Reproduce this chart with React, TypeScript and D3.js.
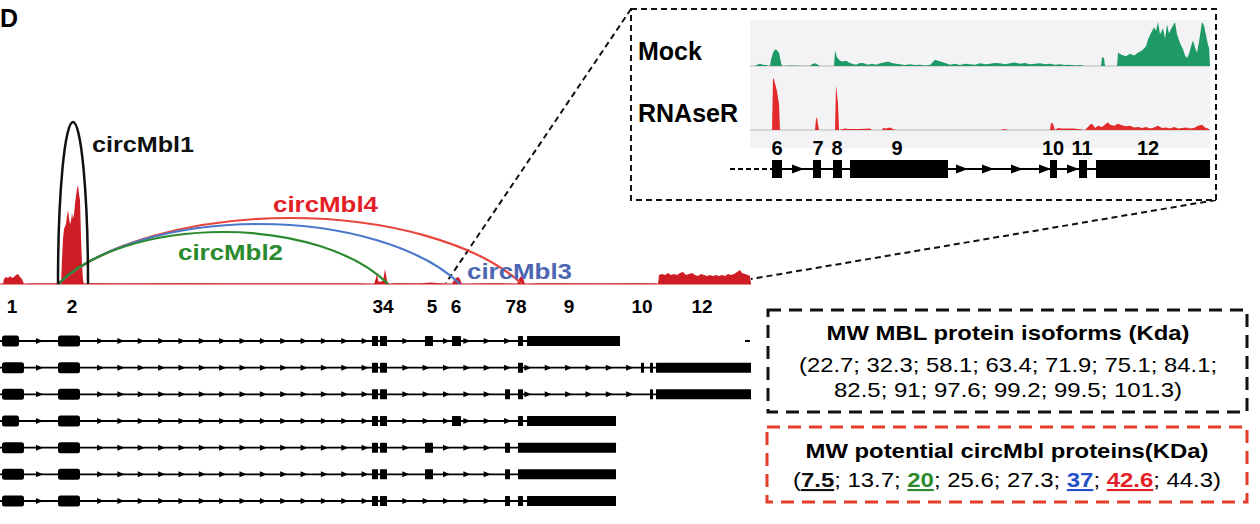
import React from 'react'
import * as d3 from 'd3'

const FONT = '"Liberation Sans", Arial, Helvetica, sans-serif'

// read-coverage along the Mbl locus: [position, signal]
const locusCoverage: [number, number][] = [
  [0, 0], [3, 0], [4, 5], [6, 7], [8, 6], [10, 8], [12, 6], [14, 7], [16, 9], [18, 10], [20, 7], [22, 5], [24, 0],
  [30, 0.6], [50, 0.6], [60, 0.6],
  [61, 0], [62, 25], [63, 45], [64, 55], [66, 60], [67, 68], [68, 74], [69, 66], [70, 60], [71, 63], [72, 71], [73, 65],
  [74, 70], [75, 80], [76, 88], [77, 95], [78, 99], [79, 90], [80, 84], [81, 47], [82, 20], [83, 4], [84, 0],
  [90, 0.8], [120, 0.5], [180, 0.8], [250, 0.5], [300, 0.6], [360, 0.6],
  [374, 0], [376, 6], [377, 11], [378, 4], [379, 2], [383, 3], [385, 15], [386, 9], [387, 3], [389, 0],
  [395, 0.8], [420, 0.6], [430, 1.5], [440, 0.8],
  [452, 0], [454, 4], [456, 6], [458, 7], [460, 5], [462, 0],
  [480, 0.6], [500, 0.8],
  [517, 0], [519, 5], [521, 8], [523, 6], [525, 0],
  [540, 0.8], [600, 0.6], [640, 0.7], [655, 0.6],
  [658, 0], [659, 9], [662, 10], [665, 9], [668, 11], [671, 9], [674, 10], [677, 9], [680, 11], [683, 12], [686, 9],
  [689, 10], [692, 11], [695, 9], [698, 8], [701, 10], [704, 9], [707, 8], [710, 9], [713, 8], [716, 9], [719, 8],
  [722, 9], [725, 8], [728, 10], [731, 9], [734, 10], [737, 12], [740, 14], [742, 11], [745, 10], [748, 9], [750, 8], [751, 0],
]

const exonLabels = ['1', '2', '34', '5', '6', '78', '9', '10', '12']
const exonLabelPos = [12, 72, 383, 432, 456, 516, 569, 642, 702]

// annotated isoforms: exon intervals
const isoforms: [number, number][][] = [
  [[2, 19], [58, 80], [372, 378], [380, 387], [425, 433], [452, 461], [518, 523], [527, 620]],
  [[2, 24], [58, 80], [372, 378], [380, 387], [518, 523], [641, 644], [650, 653], [656, 751]],
  [[2, 24], [58, 80], [372, 378], [380, 387], [505, 510], [518, 523], [650, 653], [656, 751]],
  [[2, 19], [58, 80], [372, 378], [380, 387], [452, 461], [518, 523], [527, 616]],
  [[2, 24], [58, 80], [372, 378], [380, 387], [425, 433], [505, 510], [518, 616]],
  [[2, 24], [58, 80], [372, 378], [380, 387], [425, 433], [505, 510], [518, 616]],
  [[2, 24], [58, 80], [372, 378], [380, 387], [505, 510], [518, 523], [527, 616]],
]
const isoformTails: ([number, number] | null)[] = [[745, 750], null, null, null, null, null, null]

// back-splice junctions
const circNames = ['circMbl1', 'circMbl2', 'circMbl3', 'circMbl4']
const circStart = [58, 58, 58, 58]
const circEnd = [88, 388, 460, 522]
const circHeight = [162, 52, 60, 66]
const circColor: Record<string, string> = {
  circMbl1: '#111111', circMbl2: '#2b8a2e', circMbl3: '#4b79c9', circMbl4: '#e8453c',
}
const circLabelColor: Record<string, string> = {
  circMbl1: '#111111', circMbl2: '#2b8a2e', circMbl3: '#4d66b3', circMbl4: '#e41e26',
}

// zoomed region (exons 6-12)
const insetTracks = ['Mock', 'RNAseR']
const mockCoverage: [number, number][] = [
  [5, 0], [7, 3], [10, 5], [13, 3], [16, 2], [20, 0], [21, 15], [23, 30], [25, 38], [27, 36], [29, 30], [31, 8], [32, 0],
  [40, 1], [60, 0], [62, 4], [65, 6], [68, 3], [70, 0],
  [84, 0], [85, 35], [87, 20], [90, 12], [93, 10], [96, 12], [99, 8], [102, 5], [106, 3], [110, 7], [114, 6], [118, 3],
  [122, 5], [126, 3], [130, 6], [134, 8], [138, 10], [142, 7], [146, 5], [150, 4], [155, 2], [160, 4], [165, 2], [170, 3],
  [175, 1], [180, 2], [185, 14], [188, 12], [192, 9], [196, 6], [200, 3], [205, 5], [210, 2], [215, 5], [220, 4], [225, 3],
  [230, 6], [235, 4], [240, 5], [245, 7], [250, 6], [255, 4], [260, 6], [265, 8], [270, 5], [275, 7], [280, 4], [285, 5],
  [290, 6], [295, 4], [300, 5], [305, 3], [310, 4], [315, 2], [320, 3], [325, 1], [330, 2], [335, 0],
  [351, 0], [352, 20], [354, 18], [355, 0], [367, 0], [368, 30], [372, 25], [376, 22], [380, 28], [384, 24], [388, 30],
  [392, 35], [396, 45], [398, 60], [401, 75], [404, 88], [406, 80], [408, 100], [410, 72], [413, 86], [415, 62],
  [417, 95], [419, 74], [421, 84], [423, 92], [425, 100], [427, 72], [430, 52], [433, 38], [435, 24], [437, 18],
  [439, 28], [441, 45], [443, 58], [445, 42], [447, 30], [449, 55], [452, 100], [454, 92], [456, 70], [458, 48], [459, 42], [460, 0],
]
const rnaseRCoverage: [number, number][] = [
  [0, 0], [22, 0], [23, 100], [24, 97], [25, 90], [26, 82], [27, 75], [28, 62], [29, 50], [30, 0],
  [65, 0], [66, 20], [67, 25], [68, 10], [69, 0],
  [85, 0], [86, 85], [87, 70], [88, 50], [89, 0],
  [95, 3], [98, 2], [110, 2], [120, 3], [122, 0], [132, 0], [133, 4], [136, 3], [140, 5], [143, 2], [146, 0],
  [250, 0], [255, 2], [258, 0], [300, 0], [301, 14], [303, 12], [305, 0], [308, 4], [312, 3], [318, 3], [323, 3],
  [328, 2], [335, 0], [341, 12], [343, 10], [345, 4], [348, 8], [352, 6], [356, 12], [358, 15], [360, 10], [364, 8],
  [368, 12], [372, 9], [376, 7], [380, 8], [384, 5], [388, 6], [392, 4], [396, 6], [400, 3], [404, 5], [408, 8],
  [412, 4], [416, 5], [420, 3], [424, 6], [428, 3], [432, 4], [436, 5], [440, 3], [444, 4], [448, 8], [452, 10],
  [455, 5], [458, 3], [460, 0],
]
const insetExons: [number, number][] = [[22, 32], [63, 71], [83, 92], [100, 198], [300, 307], [329, 337], [346, 460]]
const insetExonLabels = ['6', '7', '8', '9', '10', '11', '12']
const insetExonLabelPos = [27, 68, 87, 147, 303, 332, 398]
const insetArrows = [48, 212, 238, 267, 295, 323]

// molecular weights (kDa)
const isoformMW = ['22.7', '32.3', '58.1', '63.4', '71.9', '75.1', '84.1', '82.5', '91', '97.6', '99.2', '99.5', '101.3']
const circMW = ['7.5', '13.7', '20', '25.6', '27.3', '37', '42.6', '44.3']
const circMWSource = ['circMbl1', '', 'circMbl2', '', '', 'circMbl3', 'circMbl4', '']
const circMWColor: Record<string, string> = {
  circMbl1: '#111111', circMbl2: '#2b8a2e', circMbl3: '#2450c8', circMbl4: '#e41e26',
}

const App = () => {
  const W = 1260
  const H = 524

  const xLocus = d3.scaleLinear().domain([0, 750]).range([0, 750])
  const yLocus = d3.scaleLinear().domain([0, 100]).range([284, 184])
  const rowY = d3.scaleLinear().domain([0, 6]).range([341, 501])

  const xInset = d3.scaleLinear().domain([0, 460]).range([750, 1210])
  const yMock = d3.scaleLinear().domain([0, 100]).range([66, 22])
  const yRnase = d3.scaleLinear().domain([0, 100]).range([130, 78])

  const locusArea = d3.area<[number, number]>()
    .x(d => xLocus(d[0])).y0(yLocus(0)).y1(d => yLocus(d[1]))
  const mockArea = d3.area<[number, number]>()
    .x(d => xInset(d[0])).y0(yMock(0)).y1(d => yMock(d[1]))
  const rnaseArea = d3.area<[number, number]>()
    .x(d => xInset(d[0])).y0(yRnase(0)).y1(d => yRnase(d[1]))

  // partial ellipse through the two splice sites
  const junctionPath = (a: number, b: number, h: number, i: number) => {
    const x1 = xLocus(a), x2 = xLocus(b), base = yLocus(0)
    if (i === 0) {
      return `M${x1},${base} A${(x2 - x1) / 2},${h} 0 0 1 ${x2},${base}`
    }
    const rx = ((x2 - x1) / 2) * 1.12
    const k = (x2 - x1) / 2 / rx
    const ry = h / (1 - Math.sqrt(1 - k * k))
    return `M${x1},${base} A${rx},${ry} 0 0 1 ${x2},${base}`
  }

  const labelPos: Record<string, [number, number, number]> = {
    circMbl1: [92, 152, 102], circMbl2: [178, 260, 105], circMbl3: [467, 279, 105], circMbl4: [273, 212, 105],
  }

  // intron arrow glyphs on a regular grid
  const arrowGrid = d3.range(0, 36).map(k => 39.5 + 20.35 * k)
  const arrowsFor = (exons: [number, number][]) => {
    const end = exons[exons.length - 1][1]
    return arrowGrid.filter(g => g > exons[0][1] + 3 && g < end - 3 &&
      exons.every(e => g < e[0] - 3 || g > e[1] + 3))
  }

  const isoLine1 = '(' + isoformMW.slice(0, 7).join('; ') + ';'
  const isoLine2 = isoformMW.slice(7).join('; ') + ')'

  return (
    <svg width={W} height={H} style={{ position: 'absolute', left: 0, top: 0, background: '#fff' }}
      fontFamily={FONT}>
      <rect width={W} height={H} fill="#fff" />
      <text x={0} y={27} fontSize={25} fontWeight={700}>D</text>

      {/* zoom connectors */}
      <line x1={631} y1={9} x2={446} y2={283} stroke="#111" strokeWidth={2} strokeDasharray="6,4" />
      <line x1={1216} y1={200} x2={751} y2={279} stroke="#111" strokeWidth={2} strokeDasharray="6,4" />

      {/* locus coverage */}
      <line x1={xLocus(0)} x2={xLocus(751)} y1={yLocus(0)} y2={yLocus(0)} stroke="#cf1d26" strokeWidth={1} />
      <path d={locusArea(locusCoverage) || ''} fill="#cf1d26" />

      {/* back-splice arcs */}
      {circNames.map((n, i) => (
        <path key={n} d={junctionPath(circStart[i], circEnd[i], circHeight[i], i)} fill="none"
          stroke={circColor[n]} strokeWidth={i === 0 ? 2.5 : 2.2} />
      )).reverse()}
      {circNames.map(n => (
        <text key={n} x={labelPos[n][0]} y={labelPos[n][1]} fontSize={22} fontWeight={700}
          fill={circLabelColor[n]} textLength={labelPos[n][2]} lengthAdjust="spacingAndGlyphs">{n}</text>
      ))}

      {/* exon numbers */}
      {exonLabels.map((l, i) => (
        <text key={l} x={xLocus(exonLabelPos[i])} y={313} fontSize={19} fontWeight={700}
          textAnchor="middle">{l}</text>
      ))}

      {/* isoform models */}
      {isoforms.map((exons, r) => {
        const y = rowY(r)
        const tail = isoformTails[r]
        return (
          <g key={r}>
            <line x1={xLocus(0)} x2={xLocus(exons[exons.length - 1][1])} y1={y} y2={y} stroke="#000" strokeWidth={1.8} />
            {arrowsFor(exons).map(a => (
              <path key={a} d={`M${xLocus(a) - 3.5},${y - 3} L${xLocus(a) + 3.5},${y} L${xLocus(a) - 3.5},${y + 3}Z`} fill="#000" />
            ))}
            {exons.map((e, j) => (
              <rect key={j} x={xLocus(e[0])} y={j < 2 ? y - 5.5 : y - 5} width={xLocus(e[1]) - xLocus(e[0])}
                height={j < 2 ? 11 : 10} rx={j < 2 ? 2.5 : 0.5} fill="#000" />
            ))}
            {tail && (
              <line x1={xLocus(tail[0])} x2={xLocus(tail[1])} y1={y} y2={y} stroke="#000" strokeWidth={2} />
            )}
          </g>
        )
      })}

      {/* inset */}
      <rect x={631} y={9} width={585} height={191} fill="#fff" stroke="#111" strokeWidth={2} strokeDasharray="6,4" />
      <rect x={xInset(0)} y={20} width={xInset(460) - xInset(0)} height={128} fill="#f3f2f4" />
      <line x1={xInset(0)} x2={xInset(460)} y1={yMock(0)} y2={yMock(0)} stroke="#b9b9b9" strokeWidth={1} />
      <line x1={xInset(0)} x2={xInset(460)} y1={yRnase(0)} y2={yRnase(0)} stroke="#b9b9b9" strokeWidth={1} />
      <path d={mockArea(mockCoverage) || ''} fill="#1f9a67" />
      <path d={rnaseArea(rnaseRCoverage) || ''} fill="#e32a2a" />
      <text x={638} y={60} fontSize={25} fontWeight={700}>{insetTracks[0]}</text>
      <text x={638} y={122} fontSize={25} fontWeight={700}>{insetTracks[1]}</text>
      {insetExonLabels.map((l, i) => (
        <text key={l} x={xInset(insetExonLabelPos[i])} y={155} fontSize={20} fontWeight={700}
          textAnchor="middle">{l}</text>
      ))}
      <line x1={730} x2={xInset(insetExons[0][0])} y1={169} y2={169} stroke="#000" strokeWidth={2} strokeDasharray="5,3" />
      <line x1={xInset(insetExons[0][0])} x2={xInset(460)} y1={169} y2={169} stroke="#000" strokeWidth={2} />
      {insetArrows.map(a => (
        <path key={a} d={`M${xInset(a) - 6},${169 - 4.5} L${xInset(a) + 6},${169} L${xInset(a) - 6},${169 + 4.5}Z`} fill="#000" />
      ))}
      {insetExons.map((e, i) => (
        <rect key={i} x={xInset(e[0])} y={160} width={xInset(e[1]) - xInset(e[0])} height={18} fill="#000" />
      ))}

      {/* molecular weight boxes */}
      <rect x={768} y={310} width={479} height={102} fill="none" stroke="#111" strokeWidth={3} strokeDasharray="13,8" />
      <text x={1008} y={340} fontSize={21} fontWeight={700} textAnchor="middle" textLength={363}
        lengthAdjust="spacingAndGlyphs">MW MBL protein isoforms (Kda)</text>
      <text x={1008} y={372} fontSize={21} textAnchor="middle" textLength={418}
        lengthAdjust="spacingAndGlyphs">{isoLine1}</text>
      <text x={1008} y={397} fontSize={21} textAnchor="middle" textLength={348}
        lengthAdjust="spacingAndGlyphs">{isoLine2}</text>

      <rect x={767} y={427} width={480} height={75} fill="none" stroke="#e53d2b" strokeWidth={3} strokeDasharray="13,8" />
      <text x={1007} y={458} fontSize={21} fontWeight={700} textAnchor="middle" textLength={403}
        lengthAdjust="spacingAndGlyphs">MW potential circMbl proteins(KDa)</text>
      <text x={1007} y={487} fontSize={21} textAnchor="middle" textLength={428} lengthAdjust="spacingAndGlyphs">
        (
        {circMW.map((v, i) => {
          const src = circMWSource[i]
          const sep = i < circMW.length - 1 ? '; ' : ''
          return (
            <React.Fragment key={v}>
              {src ? (
                <tspan fontWeight={700} fill={circMWColor[src]}
                  style={{ textDecoration: 'underline', textDecorationThickness: '2px' }}>{v}</tspan>
              ) : <tspan>{v}</tspan>}
              <tspan>{sep}</tspan>
            </React.Fragment>
          )
        })}
        )
      </text>
    </svg>
  )
}

export default App
